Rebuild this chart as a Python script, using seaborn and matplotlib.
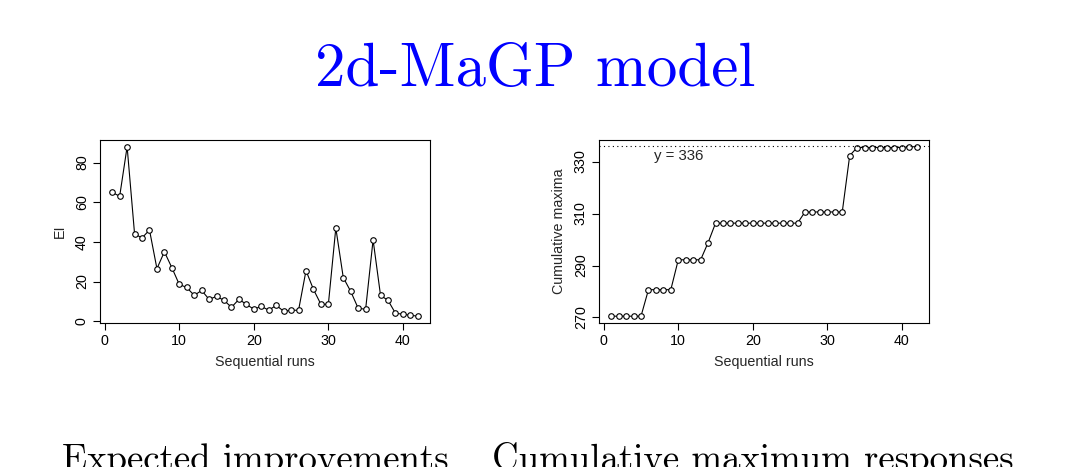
import numpy as np
import pandas as pd
import matplotlib
matplotlib.use("Agg")
import matplotlib.pyplot as plt
import seaborn as sns

runs = list(range(1, 43))
ei_values = [65, 63, 88, 44, 42, 46, 26.5, 35, 27, 18.5, 17, 13, 15.5, 11, 12.5,
             10.5, 7, 11, 8.5, 6, 7.5, 5.5, 8, 5, 5.5, 5.5, 25.5, 16, 8.5, 8.5,
             47, 22, 15, 6.5, 6, 41, 13, 10.5, 4, 3.5, 3, 2.5]
cummax_values = [270.5] * 5 + [280.7] * 4 + [292.2] * 4 + [298.8] + [306.3] * 12 \
    + [310.6] * 6 + [332.3] + [335.4] * 7 + [335.7] * 2
ref_level = 336
ref_label = "y = 336"

title_text = "2d-MaGP model"
caption_left = "Expected improvements"
caption_right = "Cumulative maximum responses"

sns.set_theme(style="white")
plt.rcParams['font.family'] = ['Liberation Sans', 'DejaVu Sans']

fig = plt.figure(figsize=(10.74, 4.67), dpi=100)
ax1 = fig.add_axes([0.0931, 0.3084, 0.3073, 0.3919])
ax2 = fig.add_axes([0.5577, 0.3084, 0.3073, 0.3919])

df = pd.DataFrame({"run": runs, "ei": ei_values, "cm": cummax_values})

def rlim(vals):
    lo, hi = min(vals), max(vals)
    d = (hi - lo) * 0.04
    return lo - d, hi + d

FS = 10.3
for ax, col in [(ax1, "ei"), (ax2, "cm")]:
    sns.lineplot(data=df, x="run", y=col, ax=ax, color="black", linewidth=0.8,
                 marker="o", markersize=4.0, markerfacecolor="white",
                 markeredgecolor="black", markeredgewidth=0.8)
    ax.set_xlim(*rlim(runs))
    ax.set_xticks([0, 10, 20, 30, 40])
    ax.set_xlabel("Sequential runs", fontsize=FS, labelpad=5)
    for s in ax.spines.values():
        s.set_visible(True)
        s.set_color("black")
        s.set_linewidth(0.8)
    ax.tick_params(axis="both", direction="out", length=5, width=0.8,
                   labelsize=FS, colors="black", left=True, bottom=True, pad=3)

ax1.set_ylim(*rlim(ei_values))
ax1.set_yticks([0, 20, 40, 60, 80])
ax1.set_ylabel("EI", fontsize=FS, labelpad=6)

ax2.set_ylim(*rlim(cummax_values))
ax2.set_yticks([270, 290, 310, 330])
ax2.set_ylabel("Cumulative maxima", fontsize=FS, labelpad=6)

for ax in (ax1, ax2):
    for lab in ax.get_yticklabels():
        lab.set_rotation(90)
        lab.set_va("center")

ax2.axhline(ref_level, color="black", linestyle=(0, (1, 3)), linewidth=0.8)
ax2.text(10, 332.3, ref_label, ha="center", va="center", fontsize=10.8)

fig.text(0.498, 0.85, title_text, color="#0000ff", fontsize=44,
         ha="center", va="center", family="cmr10")
fig.text(0.2374, -0.0064, caption_left, color="black", fontsize=26.5,
         ha="center", va="baseline", family="cmr10")
fig.text(0.7007, -0.0064, caption_right, color="black", fontsize=26.5,
         ha="center", va="baseline", family="cmr10")

fig.savefig("out.png", dpi=100)
